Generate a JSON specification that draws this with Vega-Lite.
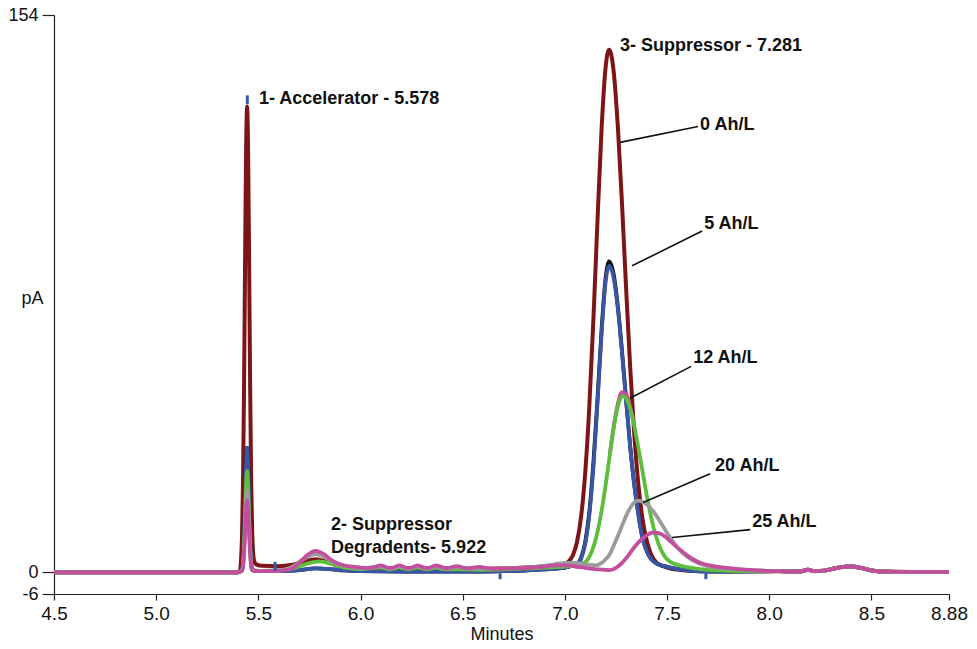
{
  "$schema": "https://vega.github.io/schema/vega-lite/v6.json",
  "width": 895,
  "height": 579,
  "autosize": "none",
  "padding": {"left": 54, "top": 15, "right": 28, "bottom": 55},
  "background": "white",
  "config": {
    "view": {"stroke": null},
    "font": "Liberation Sans",
    "axis": {"grid": false, "domainColor": "#222", "tickColor": "#222", "labelColor": "#111", "titleColor": "#111",
             "labelFont": "Liberation Sans", "titleFont": "Liberation Sans",
             "labelFontSize": 18, "titleFontSize": 18, "titleFontWeight": "normal", "domainWidth": 1.2, "tickWidth": 1.2}
  },
  "datasets": {
    "run0": [
      {"t": 4.5, "pA": 0}, {"t": 5.40, "pA": 0}, {"t": 5.41, "pA": 0.5}, {"t": 5.415, "pA": 3.1}, {"t": 5.42, "pA": 9.7},
      {"t": 5.425, "pA": 24.6}, {"t": 5.43, "pA": 50.8}, {"t": 5.435, "pA": 85.2}, {"t": 5.44, "pA": 116.1}, {"t": 5.445, "pA": 128.7},
      {"t": 5.45, "pA": 116.1}, {"t": 5.455, "pA": 85.2}, {"t": 5.46, "pA": 50.8}, {"t": 5.465, "pA": 25}, {"t": 5.47, "pA": 11},
      {"t": 5.475, "pA": 5}, {"t": 5.48, "pA": 3}, {"t": 5.49, "pA": 2.2}, {"t": 5.52, "pA": 1.8}, {"t": 5.60, "pA": 1.7},
      {"t": 5.66, "pA": 2.0}, {"t": 5.72, "pA": 2.9}, {"t": 5.78, "pA": 3.6}, {"t": 5.83, "pA": 3.0}, {"t": 5.88, "pA": 2.0},
      {"t": 5.95, "pA": 1.4}, {"t": 6.0, "pA": 1.2}, {"t": 6.2, "pA": 1.2}, {"t": 6.4, "pA": 1.1}, {"t": 6.6, "pA": 1.0},
      {"t": 6.8, "pA": 1.3}, {"t": 6.9, "pA": 1.7}, {"t": 6.95, "pA": 2.0}, {"t": 7.0, "pA": 2.3}, {"t": 7.02, "pA": 3.1},
      {"t": 7.04, "pA": 4.8}, {"t": 7.06, "pA": 8.5}, {"t": 7.08, "pA": 15.6}, {"t": 7.10, "pA": 27.7}, {"t": 7.12, "pA": 46.1},
      {"t": 7.14, "pA": 70.2}, {"t": 7.16, "pA": 97.5}, {"t": 7.18, "pA": 122.8}, {"t": 7.20, "pA": 139.8}, {"t": 7.217, "pA": 144.4},
      {"t": 7.24, "pA": 137.8}, {"t": 7.26, "pA": 122.5}, {"t": 7.28, "pA": 101.5}, {"t": 7.30, "pA": 78.3}, {"t": 7.32, "pA": 56.4},
      {"t": 7.34, "pA": 38}, {"t": 7.36, "pA": 24.2}, {"t": 7.38, "pA": 14.8}, {"t": 7.40, "pA": 8.9}, {"t": 7.42, "pA": 5.2},
      {"t": 7.45, "pA": 2.6}, {"t": 7.50, "pA": 1.3}, {"t": 7.56, "pA": 0.7}, {"t": 7.65, "pA": 0.4}, {"t": 7.8, "pA": 0.3},
      {"t": 8.05, "pA": 0.3}, {"t": 8.15, "pA": 0.2}, {"t": 8.19, "pA": 0.7}, {"t": 8.22, "pA": 0.3}, {"t": 8.26, "pA": 0.4},
      {"t": 8.30, "pA": 0.8}, {"t": 8.35, "pA": 1.4}, {"t": 8.40, "pA": 1.6}, {"t": 8.45, "pA": 1.2}, {"t": 8.50, "pA": 0.5},
      {"t": 8.55, "pA": 0.2}, {"t": 8.70, "pA": 0.1}, {"t": 8.88, "pA": 0.1}
    ],
    "run5b": [
      {"t": 4.5, "pA": 0}, {"t": 5.40, "pA": 0}, {"t": 5.42, "pA": 0.7}, {"t": 5.425, "pA": 2.9}, {"t": 5.43, "pA": 8.6},
      {"t": 5.435, "pA": 18.5}, {"t": 5.44, "pA": 29.5}, {"t": 5.445, "pA": 34.4}, {"t": 5.45, "pA": 29.5}, {"t": 5.455, "pA": 18.5},
      {"t": 5.46, "pA": 8.6}, {"t": 5.465, "pA": 2.9}, {"t": 5.47, "pA": 0.7}, {"t": 5.50, "pA": 0.3}, {"t": 5.60, "pA": 0.3},
      {"t": 5.70, "pA": 0.6}, {"t": 5.78, "pA": 1.1}, {"t": 5.85, "pA": 0.9}, {"t": 5.92, "pA": 0.5}, {"t": 6.0, "pA": 0.3},
      {"t": 6.3, "pA": 0.2}, {"t": 6.6, "pA": 0.2}, {"t": 6.7, "pA": 0.3}, {"t": 6.8, "pA": 0.5}, {"t": 6.9, "pA": 0.8},
      {"t": 7.0, "pA": 1.3}, {"t": 7.04, "pA": 1.9}, {"t": 7.06, "pA": 2.3}, {"t": 7.08, "pA": 4.1}, {"t": 7.10, "pA": 8.5},
      {"t": 7.12, "pA": 16.8}, {"t": 7.14, "pA": 30.5}, {"t": 7.16, "pA": 48.2}, {"t": 7.18, "pA": 67.3}, {"t": 7.20, "pA": 81.6},
      {"t": 7.217, "pA": 85.9}, {"t": 7.24, "pA": 82}, {"t": 7.26, "pA": 73.2}, {"t": 7.28, "pA": 61}, {"t": 7.30, "pA": 47.6},
      {"t": 7.32, "pA": 34.7}, {"t": 7.34, "pA": 24.1}, {"t": 7.36, "pA": 16}, {"t": 7.38, "pA": 9.5}, {"t": 7.40, "pA": 6},
      {"t": 7.42, "pA": 3.8}, {"t": 7.45, "pA": 2.4}, {"t": 7.50, "pA": 1.5}, {"t": 7.56, "pA": 0.8}, {"t": 7.62, "pA": 0.4},
      {"t": 7.70, "pA": 0.2}, {"t": 7.8, "pA": 0.2},
      {"t": 8.05, "pA": 0.3}, {"t": 8.15, "pA": 0.2}, {"t": 8.19, "pA": 0.7}, {"t": 8.22, "pA": 0.3}, {"t": 8.26, "pA": 0.4},
      {"t": 8.30, "pA": 0.8}, {"t": 8.35, "pA": 1.4}, {"t": 8.40, "pA": 1.6}, {"t": 8.45, "pA": 1.2}, {"t": 8.50, "pA": 0.5},
      {"t": 8.55, "pA": 0.2}, {"t": 8.70, "pA": 0.1}, {"t": 8.88, "pA": 0.1}
    ],
    "run5": [
      {"t": 4.5, "pA": 0}, {"t": 5.40, "pA": 0}, {"t": 5.42, "pA": 0.7}, {"t": 5.425, "pA": 2.9}, {"t": 5.43, "pA": 8.6},
      {"t": 5.435, "pA": 18.5}, {"t": 5.44, "pA": 29.5}, {"t": 5.445, "pA": 34.4}, {"t": 5.45, "pA": 29.5}, {"t": 5.455, "pA": 18.5},
      {"t": 5.46, "pA": 8.6}, {"t": 5.465, "pA": 2.9}, {"t": 5.47, "pA": 0.7}, {"t": 5.50, "pA": 0.3}, {"t": 5.60, "pA": 0.3},
      {"t": 5.70, "pA": 0.6}, {"t": 5.78, "pA": 1.1}, {"t": 5.85, "pA": 0.9}, {"t": 5.92, "pA": 0.5}, {"t": 6.0, "pA": 0.3},
      {"t": 6.3, "pA": 0.2}, {"t": 6.6, "pA": 0.2}, {"t": 6.7, "pA": 0.3}, {"t": 6.8, "pA": 0.5}, {"t": 6.9, "pA": 0.8},
      {"t": 7.0, "pA": 1.3}, {"t": 7.04, "pA": 1.9}, {"t": 7.06, "pA": 2.2}, {"t": 7.08, "pA": 3.8}, {"t": 7.10, "pA": 7.9},
      {"t": 7.12, "pA": 15.9}, {"t": 7.14, "pA": 29.1}, {"t": 7.16, "pA": 47}, {"t": 7.18, "pA": 66.2}, {"t": 7.20, "pA": 80.5},
      {"t": 7.217, "pA": 84.7}, {"t": 7.24, "pA": 81}, {"t": 7.26, "pA": 72.5}, {"t": 7.28, "pA": 60.5}, {"t": 7.30, "pA": 47.3},
      {"t": 7.32, "pA": 34.5}, {"t": 7.34, "pA": 24}, {"t": 7.36, "pA": 16}, {"t": 7.38, "pA": 9.5}, {"t": 7.40, "pA": 6},
      {"t": 7.42, "pA": 3.8}, {"t": 7.45, "pA": 2.4}, {"t": 7.50, "pA": 1.5}, {"t": 7.56, "pA": 0.8}, {"t": 7.62, "pA": 0.4},
      {"t": 7.70, "pA": 0.2}, {"t": 7.8, "pA": 0.2},
      {"t": 8.05, "pA": 0.3}, {"t": 8.15, "pA": 0.2}, {"t": 8.19, "pA": 0.7}, {"t": 8.22, "pA": 0.3}, {"t": 8.26, "pA": 0.4},
      {"t": 8.30, "pA": 0.8}, {"t": 8.35, "pA": 1.4}, {"t": 8.40, "pA": 1.6}, {"t": 8.45, "pA": 1.2}, {"t": 8.50, "pA": 0.5},
      {"t": 8.55, "pA": 0.2}, {"t": 8.70, "pA": 0.1}, {"t": 8.88, "pA": 0.1}
    ],
    "run12b": [
      {"t": 7.22, "pA": 32.6}, {"t": 7.24, "pA": 40.6}, {"t": 7.26, "pA": 46.7}, {"t": 7.28, "pA": 49.8},
      {"t": 7.30, "pA": 49.2}, {"t": 7.32, "pA": 45.6}, {"t": 7.34, "pA": 40.6}
    ],
    "run12": [
      {"t": 4.5, "pA": 0}, {"t": 5.40, "pA": 0}, {"t": 5.42, "pA": 0.6}, {"t": 5.425, "pA": 2.4}, {"t": 5.43, "pA": 7},
      {"t": 5.435, "pA": 15.1}, {"t": 5.44, "pA": 24}, {"t": 5.445, "pA": 28}, {"t": 5.45, "pA": 24}, {"t": 5.455, "pA": 15.1},
      {"t": 5.46, "pA": 7}, {"t": 5.465, "pA": 2.4}, {"t": 5.47, "pA": 0.6}, {"t": 5.52, "pA": 0.4}, {"t": 5.60, "pA": 0.5},
      {"t": 5.68, "pA": 1.2}, {"t": 5.74, "pA": 2.4}, {"t": 5.80, "pA": 3}, {"t": 5.86, "pA": 2.3}, {"t": 5.92, "pA": 1.3},
      {"t": 6.0, "pA": 0.9}, {"t": 6.10, "pA": 1.3}, {"t": 6.145, "pA": 0.8}, {"t": 6.19, "pA": 1.3}, {"t": 6.235, "pA": 0.8},
      {"t": 6.28, "pA": 1.3}, {"t": 6.325, "pA": 0.8}, {"t": 6.37, "pA": 1.2}, {"t": 6.42, "pA": 0.8}, {"t": 6.5, "pA": 0.8},
      {"t": 6.6, "pA": 0.7}, {"t": 6.7, "pA": 0.8}, {"t": 6.8, "pA": 1.0}, {"t": 6.9, "pA": 1.3}, {"t": 7.0, "pA": 1.6},
      {"t": 7.05, "pA": 1.8}, {"t": 7.10, "pA": 2.8}, {"t": 7.12, "pA": 4.3}, {"t": 7.14, "pA": 7}, {"t": 7.16, "pA": 11.2},
      {"t": 7.18, "pA": 17}, {"t": 7.20, "pA": 24.3}, {"t": 7.22, "pA": 32.4}, {"t": 7.24, "pA": 40.2}, {"t": 7.26, "pA": 46},
      {"t": 7.285, "pA": 48.7}, {"t": 7.30, "pA": 48}, {"t": 7.32, "pA": 45.1}, {"t": 7.34, "pA": 40.4}, {"t": 7.36, "pA": 34.4},
      {"t": 7.38, "pA": 27.9}, {"t": 7.40, "pA": 21.5}, {"t": 7.42, "pA": 15.8}, {"t": 7.44, "pA": 11.1}, {"t": 7.46, "pA": 7.6},
      {"t": 7.48, "pA": 5.2}, {"t": 7.50, "pA": 3.6}, {"t": 7.53, "pA": 2.5}, {"t": 7.56, "pA": 1.9}, {"t": 7.60, "pA": 1.4},
      {"t": 7.66, "pA": 0.9}, {"t": 7.75, "pA": 0.5}, {"t": 7.85, "pA": 0.3},
      {"t": 8.05, "pA": 0.3}, {"t": 8.15, "pA": 0.2}, {"t": 8.19, "pA": 0.7}, {"t": 8.22, "pA": 0.3}, {"t": 8.26, "pA": 0.4},
      {"t": 8.30, "pA": 0.8}, {"t": 8.35, "pA": 1.4}, {"t": 8.40, "pA": 1.6}, {"t": 8.45, "pA": 1.2}, {"t": 8.50, "pA": 0.5},
      {"t": 8.55, "pA": 0.2}, {"t": 8.70, "pA": 0.1}, {"t": 8.88, "pA": 0.1}
    ],
    "run20": [
      {"t": 4.5, "pA": 0}, {"t": 5.40, "pA": 0}, {"t": 5.42, "pA": 0.5}, {"t": 5.425, "pA": 1.9}, {"t": 5.43, "pA": 5.6},
      {"t": 5.435, "pA": 12.2}, {"t": 5.44, "pA": 19.4}, {"t": 5.445, "pA": 22.6}, {"t": 5.45, "pA": 19.4}, {"t": 5.455, "pA": 12.2},
      {"t": 5.46, "pA": 5.6}, {"t": 5.465, "pA": 1.9}, {"t": 5.47, "pA": 0.6}, {"t": 5.52, "pA": 0.4}, {"t": 5.60, "pA": 0.5},
      {"t": 5.66, "pA": 1.3}, {"t": 5.72, "pA": 3.6}, {"t": 5.78, "pA": 5.0}, {"t": 5.82, "pA": 4.3}, {"t": 5.87, "pA": 2.8},
      {"t": 5.92, "pA": 1.8}, {"t": 6.0, "pA": 1.1}, {"t": 6.10, "pA": 1.6}, {"t": 6.145, "pA": 1.0}, {"t": 6.19, "pA": 1.6},
      {"t": 6.235, "pA": 1.0}, {"t": 6.28, "pA": 1.6}, {"t": 6.325, "pA": 1.0}, {"t": 6.37, "pA": 1.6}, {"t": 6.42, "pA": 1.0},
      {"t": 6.47, "pA": 1.4}, {"t": 6.525, "pA": 1.0}, {"t": 6.6, "pA": 1.0}, {"t": 6.7, "pA": 1.1}, {"t": 6.8, "pA": 1.3},
      {"t": 6.9, "pA": 1.8}, {"t": 6.95, "pA": 2.2}, {"t": 7.00, "pA": 2.6}, {"t": 7.05, "pA": 2.6}, {"t": 7.10, "pA": 2.2},
      {"t": 7.15, "pA": 1.9}, {"t": 7.18, "pA": 2.6}, {"t": 7.20, "pA": 3.6}, {"t": 7.22, "pA": 5.0}, {"t": 7.24, "pA": 7.5},
      {"t": 7.26, "pA": 10.1}, {"t": 7.28, "pA": 12.9}, {"t": 7.30, "pA": 15.6}, {"t": 7.32, "pA": 17.8}, {"t": 7.34, "pA": 19.3},
      {"t": 7.358, "pA": 19.8}, {"t": 7.38, "pA": 19.5}, {"t": 7.40, "pA": 18.8}, {"t": 7.43, "pA": 17.0}, {"t": 7.46, "pA": 14.6},
      {"t": 7.50, "pA": 10.9}, {"t": 7.55, "pA": 6.9}, {"t": 7.60, "pA": 4.2}, {"t": 7.65, "pA": 2.6}, {"t": 7.70, "pA": 1.7},
      {"t": 7.75, "pA": 1.2}, {"t": 7.84, "pA": 0.8}, {"t": 7.95, "pA": 0.5},
      {"t": 8.05, "pA": 0.3}, {"t": 8.15, "pA": 0.2}, {"t": 8.19, "pA": 0.7}, {"t": 8.22, "pA": 0.3}, {"t": 8.26, "pA": 0.4},
      {"t": 8.30, "pA": 0.8}, {"t": 8.35, "pA": 1.4}, {"t": 8.40, "pA": 1.6}, {"t": 8.45, "pA": 1.2}, {"t": 8.50, "pA": 0.5},
      {"t": 8.55, "pA": 0.2}, {"t": 8.70, "pA": 0.1}, {"t": 8.88, "pA": 0.1}
    ],
    "run25": [
      {"t": 4.5, "pA": 0}, {"t": 5.40, "pA": 0}, {"t": 5.42, "pA": 0.4}, {"t": 5.425, "pA": 1.7}, {"t": 5.43, "pA": 4.9},
      {"t": 5.435, "pA": 10.7}, {"t": 5.44, "pA": 17}, {"t": 5.445, "pA": 19.8}, {"t": 5.45, "pA": 17}, {"t": 5.455, "pA": 10.7},
      {"t": 5.46, "pA": 4.9}, {"t": 5.465, "pA": 1.7}, {"t": 5.47, "pA": 0.6}, {"t": 5.50, "pA": 0.3}, {"t": 5.60, "pA": 0.4},
      {"t": 5.66, "pA": 0.9}, {"t": 5.70, "pA": 2.6}, {"t": 5.74, "pA": 4.8}, {"t": 5.78, "pA": 5.9}, {"t": 5.82, "pA": 5.0},
      {"t": 5.86, "pA": 3.3}, {"t": 5.90, "pA": 2.2}, {"t": 5.95, "pA": 1.6}, {"t": 6.00, "pA": 1.3}, {"t": 6.05, "pA": 1.2},
      {"t": 6.10, "pA": 1.9}, {"t": 6.145, "pA": 1.1}, {"t": 6.19, "pA": 1.9}, {"t": 6.235, "pA": 1.1}, {"t": 6.28, "pA": 1.9},
      {"t": 6.325, "pA": 1.1}, {"t": 6.37, "pA": 1.9}, {"t": 6.42, "pA": 1.1}, {"t": 6.47, "pA": 1.7}, {"t": 6.525, "pA": 1.1},
      {"t": 6.58, "pA": 1.5}, {"t": 6.64, "pA": 1.0}, {"t": 6.70, "pA": 1.0}, {"t": 6.76, "pA": 1.1}, {"t": 6.82, "pA": 1.2},
      {"t": 6.88, "pA": 1.4}, {"t": 6.95, "pA": 1.9}, {"t": 7.00, "pA": 1.9}, {"t": 7.075, "pA": 1.4}, {"t": 7.16, "pA": 0.8},
      {"t": 7.22, "pA": 0.6}, {"t": 7.25, "pA": 1.2}, {"t": 7.28, "pA": 2.6}, {"t": 7.31, "pA": 4.6}, {"t": 7.34, "pA": 6.9},
      {"t": 7.37, "pA": 8.8}, {"t": 7.40, "pA": 10.2}, {"t": 7.43, "pA": 11}, {"t": 7.46, "pA": 10.8}, {"t": 7.49, "pA": 9.9},
      {"t": 7.52, "pA": 8.4}, {"t": 7.56, "pA": 6.4}, {"t": 7.60, "pA": 4.6}, {"t": 7.64, "pA": 3.2}, {"t": 7.68, "pA": 2.3},
      {"t": 7.72, "pA": 1.8}, {"t": 7.76, "pA": 1.4}, {"t": 7.85, "pA": 0.9}, {"t": 7.95, "pA": 0.5},
      {"t": 8.05, "pA": 0.3}, {"t": 8.15, "pA": 0.2}, {"t": 8.19, "pA": 0.7}, {"t": 8.22, "pA": 0.3}, {"t": 8.26, "pA": 0.4},
      {"t": 8.30, "pA": 0.8}, {"t": 8.35, "pA": 1.4}, {"t": 8.40, "pA": 1.6}, {"t": 8.45, "pA": 1.2}, {"t": 8.50, "pA": 0.5},
      {"t": 8.55, "pA": 0.2}, {"t": 8.70, "pA": 0.1}, {"t": 8.88, "pA": 0.1}
    ],
    "markers": [
      {"t": 5.446, "pA": 129.4, "pA2": 131.8},
      {"t": 5.582, "pA": 0.4, "pA2": 2.9},
      {"t": 6.683, "pA": -0.3, "pA2": -1.9},
      {"t": 7.69, "pA": -0.3, "pA2": -1.9}
    ],
    "leaders": [
      {"t": 7.270, "pA": 118.8, "t2": 7.652, "pA2": 123.2},
      {"t": 7.329, "pA": 84.7, "t2": 7.672, "pA2": 94.3},
      {"t": 7.319, "pA": 48.1, "t2": 7.618, "pA2": 56.9},
      {"t": 7.383, "pA": 19.3, "t2": 7.711, "pA2": 27.2},
      {"t": 7.525, "pA": 9.6, "t2": 7.907, "pA2": 11.8}
    ],
    "notes": [
      {"t": 5.503, "pA": 130.9, "label": "1- Accelerator - 5.578"},
      {"t": 7.270, "pA": 145.5, "label": "3- Suppressor - 7.281"},
      {"t": 7.662, "pA": 123.5, "label": "0 Ah/L"},
      {"t": 7.682, "pA": 96.3, "label": "5 Ah/L"},
      {"t": 7.628, "pA": 59.1, "label": "12 Ah/L"},
      {"t": 7.735, "pA": 29.4, "label": "20 Ah/L"},
      {"t": 7.917, "pA": 13.8, "label": "25 Ah/L"},
      {"t": 5.856, "pA": 13.2, "label": "2- Suppressor"},
      {"t": 5.856, "pA": 6.6, "label": "Degradents- 5.922"}
    ]
  },
  "encoding": {
    "x": {"field": "t", "type": "quantitative",
          "scale": {"domain": [4.5, 8.88], "nice": false, "zero": false},
          "axis": {"title": "Minutes", "values": [4.5, 5, 5.5, 6, 6.5, 7, 7.5, 8, 8.5, 8.88],
                   "labelExpr": "datum.value == 8.88 ? '8.88' : format(datum.value, '.1f')",
                   "tickSize": 6, "labelFontSize": 19, "labelPadding": 4, "titlePadding": 2, "labelFlush": false}},
    "y": {"field": "pA", "type": "quantitative",
          "scale": {"domain": [-6, 154], "nice": false, "zero": false},
          "axis": {"title": "pA", "values": [-6, 0, 154], "labelExpr": "toString(datum.value)", "tickSize": 12, "labelPadding": 4, "labelFontSize": 18,
                   "titleAngle": 0, "titleX": -22, "titleY": 283, "titleAlign": "center", "titleBaseline": "middle"}}
  },
  "layer": [
    {"data": {"name": "run0"}, "mark": {"type": "line", "interpolate": "monotone", "color": "#7d1518", "strokeWidth": 4}},
    {"data": {"name": "run5b"}, "mark": {"type": "line", "interpolate": "monotone", "color": "#111111", "strokeWidth": 3.8}},
    {"data": {"name": "run5"}, "mark": {"type": "line", "interpolate": "monotone", "color": "#3b55a5", "strokeWidth": 3.8}},
    {"data": {"name": "run12b"}, "mark": {"type": "line", "interpolate": "monotone", "color": "#c24f9e", "strokeWidth": 3.8}},
    {"data": {"name": "run12"}, "mark": {"type": "line", "interpolate": "monotone", "color": "#5dbd3c", "strokeWidth": 3.8}},
    {"data": {"name": "run20"}, "mark": {"type": "line", "interpolate": "monotone", "color": "#9b9b9b", "strokeWidth": 3.8}},
    {"data": {"name": "run25"}, "mark": {"type": "line", "interpolate": "monotone", "color": "#c24f9e", "strokeWidth": 3.8}},
    {"data": {"name": "markers"}, "mark": {"type": "rule", "color": "#3b55a5", "strokeWidth": 3},
     "encoding": {"y2": {"field": "pA2"}}},
    {"data": {"name": "leaders"}, "mark": {"type": "rule", "color": "#111111", "strokeWidth": 1.6},
     "encoding": {"x2": {"field": "t2"}, "y2": {"field": "pA2"}}},
    {"data": {"name": "notes"},
     "mark": {"type": "text", "align": "left", "baseline": "middle", "fontSize": 18, "fontWeight": "bold",
              "font": "Liberation Sans", "color": "#111111"},
     "encoding": {"text": {"field": "label"}}}
  ]
}
